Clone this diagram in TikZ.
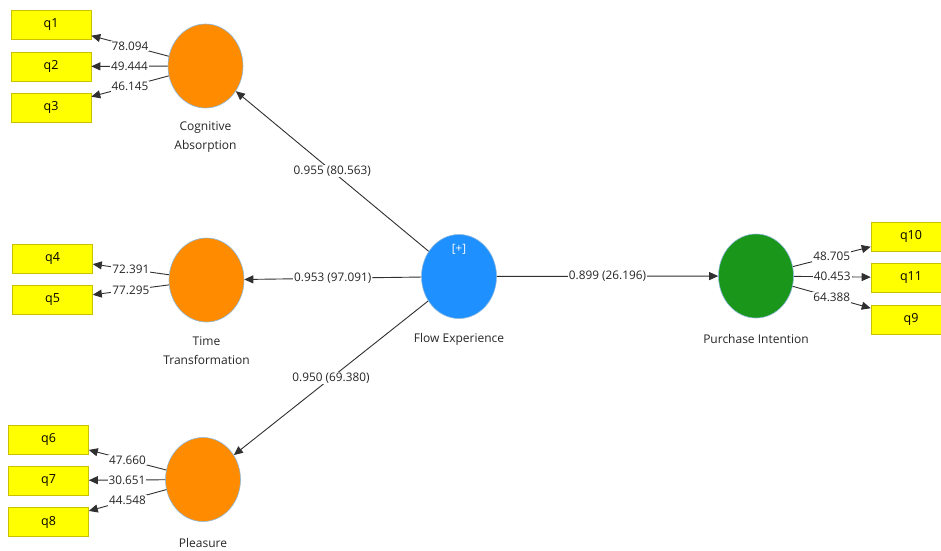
\documentclass[tikz,border=0pt]{standalone}
\usepackage{fontspec}
\setmainfont{Open Sans}
\usetikzlibrary{shapes.geometric,arrows.meta}
\definecolor{orangec}{HTML}{FF8C00}
\definecolor{bluec}{HTML}{1E90FF}
\definecolor{greenc}{HTML}{1A961A}
\definecolor{yellowc}{HTML}{FFFF00}
\definecolor{yborder}{HTML}{C8C000}
\definecolor{cedge}{HTML}{8CB8DC}
\definecolor{linec}{HTML}{303030}
\tikzset{
  construct/.style={ellipse, minimum width=75pt, minimum height=84pt, inner sep=0pt, draw=cedge, line width=0.6pt},
  item/.style={rectangle, minimum width=80pt, minimum height=29pt, inner sep=0pt, fill=yellowc, draw=yborder, line width=0.6pt, font=\fontsize{12.5}{13}\selectfont},
  cname/.style={align=center, font=\fontsize{12}{19}\selectfont, text=black!85},
  conn/.style={draw=linec, line width=0.9pt, -{Triangle[length=9pt,width=8pt]}},
  val/.style={midway, fill=white, inner sep=1pt, font=\fontsize{11.8}{12}\selectfont, text=black!85}
}
\begin{document}
\begin{tikzpicture}[x=1pt,y=-1pt]
\useasboundingbox (0,0) rectangle (941,550);
\clip (0,0) rectangle (941,550);
\fill[white] (0,0) rectangle (941,550);
% constructs
\node[construct, fill=orangec] (ca) at (205.5,66) {};
\node[construct, fill=orangec] (tt) at (206.5,280) {};
\node[construct, fill=orangec] (pl) at (203,479.5) {};
\node[construct, fill=bluec] (fe) at (459,276.5) {};
\node[construct, fill=greenc] (pi) at (756,276) {};
\node[text=white, font=\fontsize{11.5}{12}\selectfont] (plus) at (459,249) {[+]};
% construct names
\node[cname] (caname) at (205.5,137.5) {Cognitive\\Absorption};
\node[cname] (ttname) at (206.5,351) {Time\\Transformation};
\node[cname] (plname) at (203,543) {Pleasure};
\node[cname] (fename) at (459,339) {Flow Experience};
\node[cname] (piname) at (756,339) {Purchase Intention};
% items
\node[item] (q1) at (51,25) {q1};
\node[item] (q2) at (51,66.5) {q2};
\node[item] (q3) at (51,107.5) {q3};
\node[item] (q4) at (52.5,258.5) {q4};
\node[item] (q5) at (52.5,300) {q5};
\node[item] (q6) at (48.5,439.5) {q6};
\node[item] (q7) at (48.5,480.5) {q7};
\node[item] (q8) at (48.5,522) {q8};
\node[item] (q10) at (911,236.5) {q10};
\node[item] (q11) at (911,277.5) {q11};
\node[item] (q9) at (911,319.5) {q9};
% loadings
\draw[conn] (ca) -- node[val] {78.094} (q1);
\draw[conn] (ca) -- node[val] {49.444} (q2);
\draw[conn] (ca) -- node[val] {46.145} (q3);
\draw[conn] (tt) -- node[val] {72.391} (q4);
\draw[conn] (tt) -- node[val] {77.295} (q5);
\draw[conn] (pl) -- node[val] {47.660} (q6);
\draw[conn] (pl) -- node[val] {30.651} (q7);
\draw[conn] (pl) -- node[val] {44.548} (q8);
\draw[conn] (pi) -- node[val] {48.705} (q10);
\draw[conn] (pi) -- node[val] {40.453} (q11);
\draw[conn] (pi) -- node[val] {64.388} (q9);
% paths
\draw[conn] (fe) -- node[val] {0.955 (80.563)} (ca);
\draw[conn] (fe) -- node[val] {0.953 (97.091)} (tt);
\draw[conn] (fe) -- node[val] {0.950 (69.380)} (pl);
\draw[conn] (fe) -- node[val] {0.899 (26.196)} (pi);
\end{tikzpicture}
\end{document}
